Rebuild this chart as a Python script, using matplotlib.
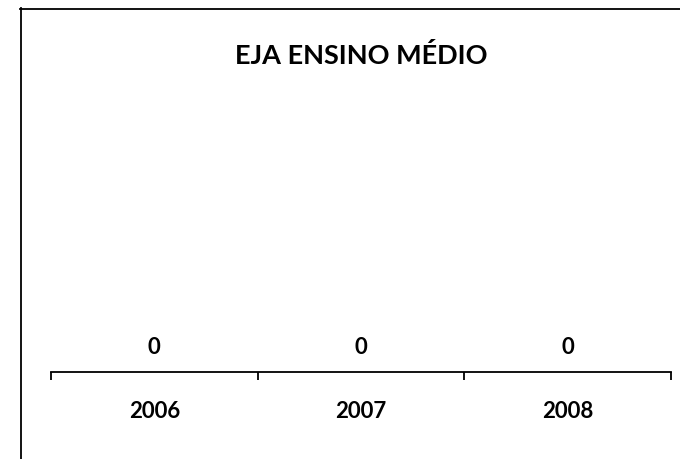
import matplotlib
matplotlib.use("Agg")
import matplotlib.pyplot as plt
from matplotlib.lines import Line2D

categories = ["2006", "2007", "2008"]
values = [0, 0, 0]
title = "EJA ENSINO MÉDIO"

plt.rcParams['font.family'] = ['Lato', 'DejaVu Sans']

W, H = 680, 459
fig = plt.figure(figsize=(W/100, H/100), dpi=100)

# axes: x from 51 to 671 px, y baseline at 372 px
left, right = 51/W, 671/W
bottom = 1 - 372/H
top = 1 - 100/H
ax = fig.add_axes([left, bottom, right-left, top-bottom])

x = list(range(len(categories)))
bars = ax.bar(x, values, width=0.6, color="#4F81BD")
ax.set_xlim(-0.5, len(categories)-0.5)
ax.set_ylim(0, 10)
for xi, v in zip(x, values):
    ax.annotate(f"{v}", (xi, v), xytext=(0, 17.5), textcoords="offset points",
                ha="center", va="center", fontsize=16, fontweight="bold")

ax.set_xticks([-0.5, 0.5, 1.5, 2.5])
ax.set_xticklabels([])
ax.set_xticks(x, minor=True)
ax.set_xticklabels(categories, minor=True, fontsize=16, fontweight="bold")
ax.tick_params(axis="x", which="major", length=6, width=1.3, direction="out", color="black")
ax.tick_params(axis="x", which="minor", length=0, pad=21)
ax.set_yticks([])
for s in ["top", "right", "left"]:
    ax.spines[s].set_visible(False)
ax.spines["bottom"].set_linewidth(1.3)
ax.spines["bottom"].set_color("black")

fig.text(361/W, 1 - 56/H, title, ha="center", va="center", fontsize=19.5, fontweight="bold")

# outer frame lines (chart area border partially visible)
fig.add_artist(Line2D([20/W, 1.0], [1 - 9/H, 1 - 9/H], color="black", lw=1.3, transform=fig.transFigure))
fig.add_artist(Line2D([21/W, 21/W], [1 - 8/H, 0.0], color="black", lw=1.3, transform=fig.transFigure))

fig.savefig("out.png", dpi=100)
